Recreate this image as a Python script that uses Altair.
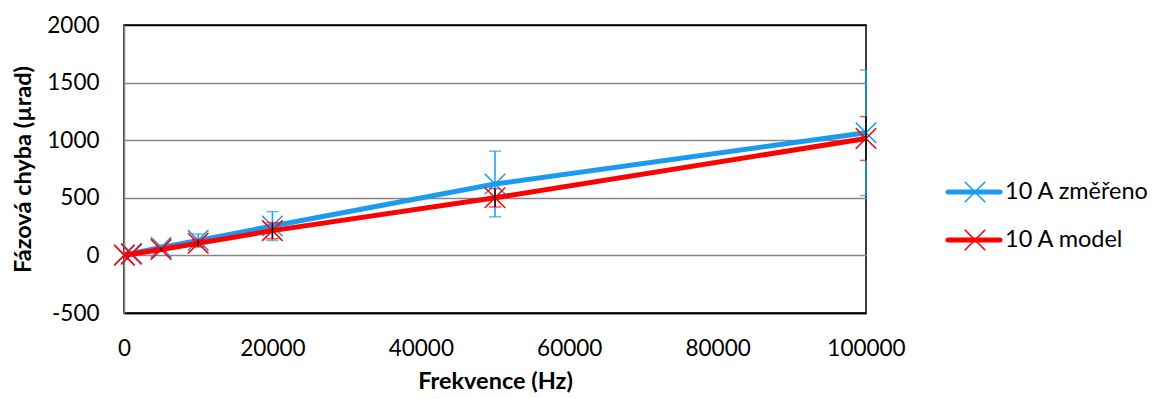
import altair as alt
import pandas as pd

freq = [50, 1000, 5000, 10000, 20000, 50000, 100000]
measured = [5, 18, 70, 130, 255, 620, 1065]
measured_err = [5, 10, 20, 55, 125, 285, 545]
model = [1, 10, 52, 105, 215, 500, 1015]
model_err = [1, 5, 15, 30, 70, 80, 190]
names = ["10 A změřeno", "10 A model"]
x_ticks = [0, 20000, 40000, 60000, 80000, 100000]
y_ticks = [-500, 0, 500, 1000, 1500, 2000]

BLUE = "#1A9BF0"
RED = "#FF0000"
FONT = "Lato"

df_m = pd.DataFrame({"f": freq, "v": measured,
                     "lo": [v - e for v, e in zip(measured, measured_err)],
                     "hi": [v + e for v, e in zip(measured, measured_err)]})
df_r = pd.DataFrame({"f": freq, "v": model,
                     "lo": [v - e for v, e in zip(model, model_err)],
                     "hi": [v + e for v, e in zip(model, model_err)]})

xs = alt.Scale(domain=[0, 100000], nice=False, zero=False)
ys = alt.Scale(domain=[-500, 2000], nice=False, zero=False)

X = alt.X("f:Q", scale=xs, title="Frekvence (Hz)",
          axis=alt.Axis(values=x_ticks, grid=False, ticks=False, domain=True,
                        domainColor="black", domainWidth=1.5,
                        labelFont=FONT, labelFontSize=22.5, labelColor="black",
                        labelPadding=24, labelFlush=False,
                        labelExpr="'' + datum.value",
                        titleFont=FONT, titleFontSize=23.5, titleFontWeight="bold",
                        titleColor="black", titlePadding=10))
def Y(field):
    return alt.Y(field, scale=ys, title="Fázová chyba (µrad)",
                 axis=alt.Axis(values=y_ticks, grid=True, ticks=False,
                               gridColor={"condition": {"test": "datum.value == 2000 || datum.value == -500",
                                                        "value": "black"}, "value": "#868686"},
                               gridWidth=1.5, domainColor="#868686", domainWidth=1.5,
                               labelFont=FONT, labelFontSize=22.5, labelColor="black",
                               labelPadding=25, labelExpr="'' + datum.value",
                               titleFont=FONT, titleFontSize=23.5, titleFontWeight="bold",
                               titleColor="black", titlePadding=11))

XSHAPE = "M-1,-1L1,1M-1,1L1,-1"

def series(df, color, err_color):
    bars = alt.Chart(df).mark_rule(color=err_color, strokeWidth=1.5).encode(
        x=X, y=Y("lo:Q"), y2="hi:Q")
    cap_lo = alt.Chart(df).mark_tick(color=color, orient="horizontal", size=12,
                                     thickness=1.5, clip=True).encode(x=X, y=Y("lo:Q"))
    cap_hi = alt.Chart(df).mark_tick(color=color, orient="horizontal", size=12,
                                     thickness=1.5, clip=True).encode(x=X, y=Y("hi:Q"))
    line = alt.Chart(df).mark_line(color=color, strokeWidth=5).encode(x=X, y=Y("v:Q"))
    pts = alt.Chart(df).mark_point(shape=XSHAPE, size=420, filled=False,
                                   color=color, strokeWidth=1.6, opacity=1).encode(x=X, y=Y("v:Q"))
    return bars, cap_lo, cap_hi, line, pts

b1, cl1, ch1, l1, p1 = series(df_m, BLUE, BLUE)
b2, cl2, ch2, l2, p2 = series(df_r, RED, "black")

def legend_entry(name, color, ypos):
    d = pd.DataFrame({"s": [name]})
    r = alt.Chart(d).mark_rule(color=color, strokeWidth=5, strokeCap="round").encode(
        x=alt.value(824), x2=alt.value(876), y=alt.value(ypos))
    p = alt.Chart(d).mark_point(shape=XSHAPE, size=420, filled=False, color=color,
                                strokeWidth=1.6, opacity=1).encode(
        x=alt.value(851), y=alt.value(ypos))
    t = alt.Chart(d).mark_text(align="left", baseline="middle", font=FONT, fontSize=23.5,
                               color="black").encode(
        x=alt.value(881), y=alt.value(ypos), text="s:N")
    return [r, p, t]

leg = legend_entry(names[0], BLUE, 167) + legend_entry(names[1], RED, 215)

chart = alt.layer(b1, cl1, ch1, l1, p1, l2, p2, b2, cl2, ch2, *leg).properties(
    width=742, height=288,
    autosize=alt.AutoSizeParams(type="none"),
    padding={"left": 116, "top": 17, "right": 284, "bottom": 80},
).configure_view(stroke="black", strokeWidth=1.5)

chart.save("out.html", embed_options={"renderer": "svg", "actions": False})
